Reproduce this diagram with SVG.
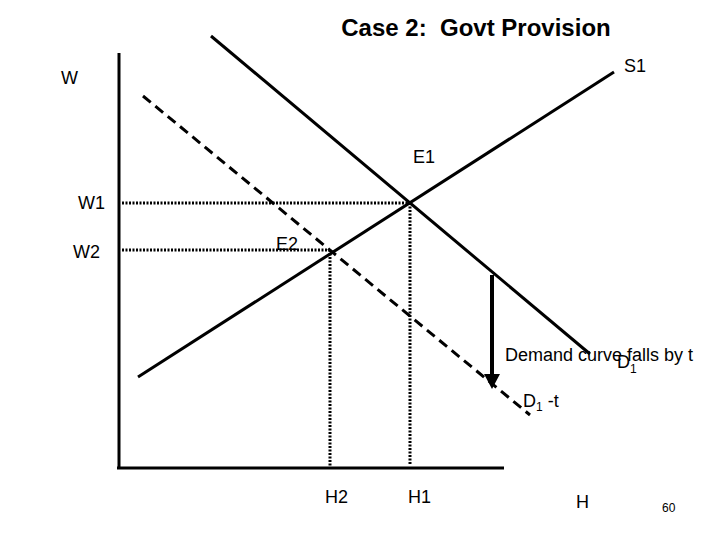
<svg xmlns="http://www.w3.org/2000/svg" width="720" height="540" viewBox="0 0 720 540">
<defs>
<style>
.t{font-family:"Liberation Sans",Arial,sans-serif;font-size:18px;fill:#000}
.sub{font-size:12px}
.ln{stroke:#000;stroke-width:3;fill:none}
.dash{stroke:#000;stroke-width:3;fill:none;stroke-dasharray:10 6}
.dot{stroke:#000;stroke-width:3;fill:none;stroke-dasharray:2 1.5}
</style>
</defs>
<rect width="720" height="540" fill="#fff"/>
<text x="476" y="36" text-anchor="middle" style="font-family:'Liberation Sans',Arial,sans-serif;font-size:24px;font-weight:bold">Case 2:&#160; Govt Provision</text>
<g id="axes">
<line class="ln" x1="119" y1="53" x2="119" y2="469"/>
<line class="ln" x1="117" y1="468" x2="504" y2="468"/>
</g>
<g id="connectors">
<line class="dot" x1="122" y1="203" x2="410" y2="203"/>
<line class="dot" x1="122" y1="250" x2="330" y2="250"/>
<line class="dot" x1="410" y1="203" x2="410" y2="464"/>
<line class="dot" x1="330" y1="250" x2="330" y2="468"/>
<line class="ln" x1="211" y1="36" x2="590" y2="354"/>
<line class="ln" x1="138" y1="377" x2="614" y2="72"/>
<line class="dash" x1="143" y1="96" x2="530" y2="415"/>
<line stroke="#000" stroke-width="4" x1="492" y1="275" x2="492" y2="376"/>
<path d="M484,374 L500,374 L492,389 Z" fill="#000"/>
</g>
<g id="labels">
<text class="t" x="61" y="84">W</text>
<text class="t" x="624" y="72">S1</text>
<text class="t" x="413" y="163">E1</text>
<text class="t" x="78" y="209">W1</text>
<text class="t" x="73" y="258">W2</text>
<text class="t" x="276" y="250">E2</text>
<text class="t" x="505" y="361">Demand curve falls by t</text>
<text class="t" x="617" y="368">D<tspan class="sub" dy="5">1</tspan></text>
<text class="t" x="523" y="407">D<tspan class="sub" dy="4">1</tspan><tspan dy="-4"> -t</tspan></text>
<text class="t" x="325" y="503">H2</text>
<text class="t" x="408" y="503">H1</text>
<text class="t" x="576" y="508">H</text>
<text class="t" x="662" y="512" style="font-size:12px">60</text>
</g>
</svg>
